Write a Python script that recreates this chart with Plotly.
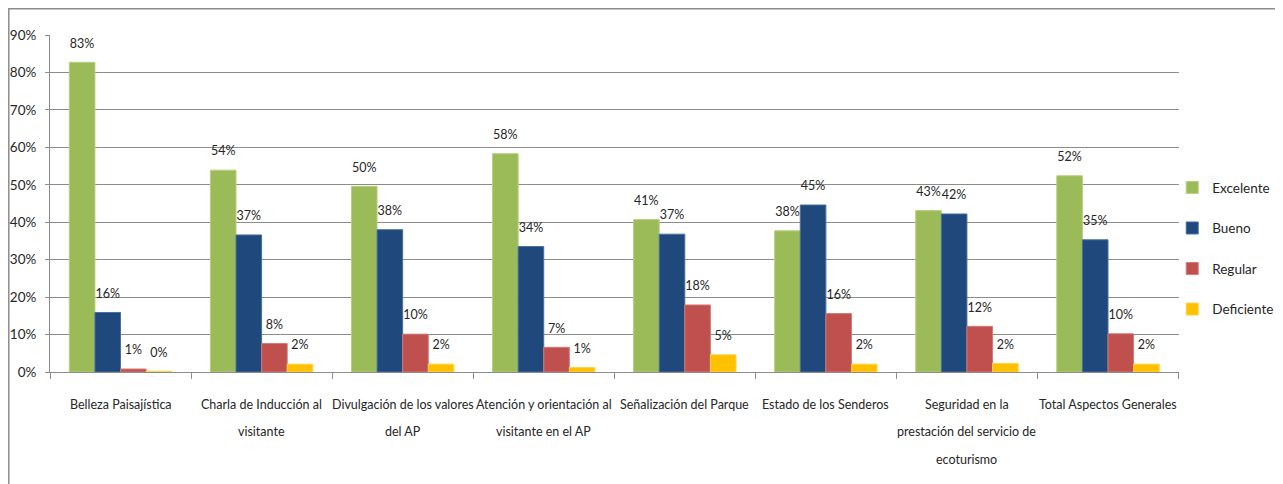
import plotly.graph_objects as go

categories = [
    "Belleza Paisajística",
    "Charla de Inducción al<br>visitante",
    "Divulgación de los valores<br>del AP",
    "Atención y orientación al<br>visitante en el AP",
    "Señalización del Parque",
    "Estado de los Senderos",
    "Seguridad en la<br>prestación del servicio de<br>ecoturismo",
    "Total Aspectos Generales",
]
excelente = [0.827, 0.539, 0.496, 0.583, 0.407, 0.377, 0.431, 0.524]
bueno = [0.159, 0.366, 0.380, 0.335, 0.368, 0.446, 0.422, 0.353]
regular = [0.008, 0.076, 0.101, 0.066, 0.179, 0.156, 0.122, 0.102]
deficiente = [0.002, 0.021, 0.021, 0.012, 0.046, 0.021, 0.023, 0.021]
tick_vals = [0, 0.1, 0.2, 0.3, 0.4, 0.5, 0.6, 0.7, 0.8, 0.9]
tick_text = ["0%", "10%", "20%", "30%", "40%", "50%", "60%", "70%", "80%", "90%"]

series = [
    ("Excelente", excelente, "#9BBB59", "#B5D07A"),
    ("Bueno", bueno, "#1F497D", "#4A6E9C"),
    ("Regular", regular, "#C0504D", "#D27A77"),
    ("Deficiente", deficiente, "#FFC000", "#FFD24D"),
]

FONT = "Lato, Liberation Sans, sans-serif"
TXT = "#262626"

fig = go.Figure()
for i, (name, vals, color, edge) in enumerate(series):
    fig.add_trace(go.Bar(
        name=name,
        x=categories,
        y=vals,
        marker=dict(color=color, line=dict(color=edge, width=1)),
        offsetgroup=str(i),
        legendgroup=name,
    ))
for i, (name, vals, color, edge) in enumerate(series):
    fig.add_trace(go.Scatter(
        x=categories,
        y=vals,
        mode="markers+text",
        marker=dict(size=17, color="rgba(0,0,0,0)"),
        text=[f"{round(v*100):d}%" for v in vals],
        textposition="top center",
        textfont=dict(family=FONT, size=12.5, color=TXT),
        offsetgroup=str(i),
        showlegend=False,
        hoverinfo="skip",
        cliponaxis=False,
    ))

# category labels with wide line spacing, as in the reference
for cat in categories:
    for j, line in enumerate(cat.split("<br>")):
        fig.add_annotation(
            x=cat, y=0, xref="x", yref="y",
            text=line, showarrow=False,
            yanchor="middle", xanchor="center",
            yshift=-32 - 27.5 * j,
            font=dict(family=FONT, size=12.5, color=TXT),
        )

# page body adds 8px margin, so figure is 8px smaller and shifted
fig.update_layout(
    width=1275,
    height=476,
    paper_bgcolor="white",
    plot_bgcolor="white",
    barmode="group",
    scattermode="group",
    bargap=0.274,
    bargroupgap=0,
    scattergap=0.274,
    margin=dict(l=42, r=104, t=27, b=112, autoexpand=False),
    font=dict(family=FONT, size=13, color=TXT),
    legend=dict(
        x=0.994, y=0.366, xanchor="left", yanchor="middle",
        font=dict(family=FONT, size=13.5, color=TXT),
        tracegroupgap=20,
        itemwidth=30,
        bgcolor="rgba(0,0,0,0)",
    ),
    showlegend=True,
    shapes=[dict(
        type="rect", xref="paper", yref="paper",
        x0=-0.0365, x1=1.0860, y0=-0.6, y1=1.0778,
        line=dict(color="#8C8C8C", width=1.5), fillcolor="rgba(0,0,0,0)", layer="below",
    )],
)
fig.update_xaxes(
    showline=True, linecolor="#8C8C8C", linewidth=1,
    ticks="outside", tickson="boundaries", ticklen=6, tickcolor="#8C8C8C",
    showgrid=False, showticklabels=False, automargin=False,
)
fig.update_yaxes(
    range=[0, 0.9],
    tickvals=tick_vals, ticktext=tick_text,
    showline=True, linecolor="#8C8C8C", linewidth=1,
    ticks="outside", ticklen=4, tickcolor="#8C8C8C",
    showgrid=True, gridcolor="#8C8C8C", gridwidth=1,
    zeroline=False, automargin=False,
    tickfont=dict(family=FONT, size=13.5, color=TXT),
    ticklabelstandoff=6,
)

fig.write_html("out.html")
